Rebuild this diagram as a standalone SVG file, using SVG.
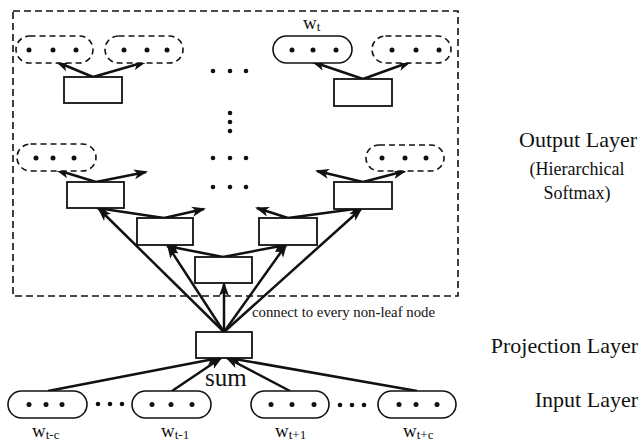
<svg xmlns="http://www.w3.org/2000/svg" width="641" height="444" viewBox="0 0 641 444">
<style>
.box{fill:#fff;stroke:#111;stroke-width:1.8}
.ov{fill:#fff;stroke:#111;stroke-width:1.6}
.dov{fill:#fff;stroke:#111;stroke-width:1.6;stroke-dasharray:6 4}
.frame{fill:none;stroke:#111;stroke-width:1.6;stroke-dasharray:7 4}
.dot{fill:#111}
.ar{stroke:#111;stroke-width:2.5;fill:none;marker-end:url(#ah)}
.t{font-family:"Liberation Serif","Times New Roman",serif;fill:#111}
</style>
<defs>
<marker id="ah" markerUnits="userSpaceOnUse" markerWidth="15" markerHeight="11" refX="12" refY="5.5" orient="auto" viewBox="0 0 15 11">
<path d="M0,0.5 L14,5.5 L0,10.5 L3.5,5.5 z" fill="#111"/>
</marker>
</defs>
<rect class="frame" x="13" y="11" width="445" height="285"/>
<g id="dots-mid" class="dot">
<circle cx="213" cy="71" r="2.3"/><circle cx="230" cy="71" r="2.3"/><circle cx="246" cy="71" r="2.3"/>
<circle cx="230" cy="113" r="2.3"/><circle cx="230" cy="122" r="2.3"/><circle cx="230" cy="131" r="2.3"/>
<circle cx="213" cy="158" r="2.3"/><circle cx="230" cy="158" r="2.3"/><circle cx="246" cy="158" r="2.3"/>
<circle cx="213" cy="187" r="2.3"/><circle cx="230" cy="187" r="2.3"/><circle cx="246" cy="187" r="2.3"/>
<circle cx="98" cy="404" r="2.3"/><circle cx="110" cy="404" r="2.3"/><circle cx="122" cy="404" r="2.3"/>
<circle cx="340" cy="405" r="2.3"/><circle cx="352" cy="405" r="2.3"/><circle cx="364" cy="405" r="2.3"/>
</g>
<g id="connectors">
<line class="ar" x1="93" y1="77" x2="57" y2="62"/>
<line class="ar" x1="93" y1="77" x2="145" y2="62"/>
<line class="ar" x1="363" y1="79" x2="313" y2="62"/>
<line class="ar" x1="363" y1="79" x2="410" y2="62"/>
<line class="ar" x1="96" y1="182" x2="57" y2="170"/>
<line class="ar" x1="96" y1="182" x2="146" y2="172"/>
<line class="ar" x1="164" y1="218" x2="97" y2="208"/>
<line class="ar" x1="164" y1="218" x2="204" y2="209"/>
<line class="ar" x1="223" y1="257" x2="167" y2="246"/>
<line class="ar" x1="223" y1="257" x2="286" y2="245"/>
<line class="ar" x1="288" y1="218" x2="257" y2="208"/>
<line class="ar" x1="288" y1="218" x2="362" y2="208"/>
<line class="ar" x1="363" y1="182" x2="317" y2="171"/>
<line class="ar" x1="363" y1="182" x2="405" y2="171"/>
<line class="ar" x1="224" y1="332" x2="224" y2="284"/>
<line class="ar" x1="224" y1="332" x2="99" y2="209"/>
<line class="ar" x1="224" y1="332" x2="168" y2="246"/>
<line class="ar" x1="224" y1="332" x2="286" y2="245"/>
<line class="ar" x1="224" y1="332" x2="361" y2="209"/>
<line class="ar" x1="48" y1="391" x2="219" y2="358"/>
<line class="ar" x1="172" y1="391" x2="221" y2="358"/>
<line class="ar" x1="290" y1="391" x2="227" y2="358"/>
<line class="ar" x1="417" y1="391" x2="229" y2="358"/>
</g>
<g id="leaf-top-1"><rect class="dov" x="16" y="36" width="77" height="27" rx="13.5"/><g class="dot"><circle cx="29" cy="50" r="2.5"/><circle cx="53" cy="50" r="2.5"/><circle cx="76" cy="50" r="2.5"/></g></g>
<g id="leaf-top-2"><rect class="dov" x="105" y="36" width="78" height="27" rx="13.5"/><g class="dot"><circle cx="124" cy="50" r="2.5"/><circle cx="147" cy="50" r="2.5"/><circle cx="167" cy="50" r="2.5"/></g></g>
<g id="leaf-wt"><rect class="ov" x="273" y="36" width="79" height="27" rx="13.5"/><g class="dot"><circle cx="292" cy="50" r="2.5"/><circle cx="313" cy="50" r="2.5"/><circle cx="336" cy="50" r="2.5"/></g>
<text class="t" x="303" y="29" font-size="19">w<tspan font-size="13" dy="2">t</tspan></text></g>
<g id="leaf-top-4"><rect class="dov" x="372" y="36" width="79" height="27" rx="13.5"/><g class="dot"><circle cx="392" cy="50" r="2.5"/><circle cx="416" cy="50" r="2.5"/><circle cx="439" cy="50" r="2.5"/></g></g>
<g id="leaf-mid-l"><rect class="dov" x="17" y="144" width="79" height="27" rx="13.5"/><g class="dot"><circle cx="36" cy="158" r="2.5"/><circle cx="53" cy="158" r="2.5"/><circle cx="74" cy="158" r="2.5"/></g></g>
<g id="leaf-mid-r"><rect class="dov" x="366" y="145" width="78" height="26" rx="13"/><g class="dot"><circle cx="382" cy="158" r="2.5"/><circle cx="405" cy="158" r="2.5"/><circle cx="426" cy="158" r="2.5"/></g></g>
<g id="node-top-l"><rect class="box" x="64" y="77" width="58" height="26"/></g>
<g id="node-top-r"><rect class="box" x="334" y="79" width="58" height="27"/></g>
<g id="node-l1"><rect class="box" x="67" y="182" width="57" height="26"/></g>
<g id="node-l2"><rect class="box" x="137" y="218" width="56" height="27"/></g>
<g id="node-c"><rect class="box" x="195" y="257" width="57" height="26"/></g>
<g id="node-r2"><rect class="box" x="259" y="218" width="58" height="27"/></g>
<g id="node-r1"><rect class="box" x="334" y="182" width="58" height="27"/></g>
<g id="projection"><rect class="box" x="196" y="332" width="56" height="26"/>
<text class="t" x="205" y="386" font-size="25">sum</text></g>
<text class="t" x="252" y="317" font-size="14" textLength="183" lengthAdjust="spacingAndGlyphs">connect to every non-leaf node</text>
<g id="in-1"><rect class="ov" x="8" y="391" width="79" height="27" rx="13.5"/><g class="dot"><circle cx="29" cy="404.5" r="2.5"/><circle cx="46" cy="404.5" r="2.5"/><circle cx="62" cy="404.5" r="2.5"/></g>
<text class="t" x="32" y="437" font-size="19">w<tspan font-size="13" dy="2">t-c</tspan></text></g>
<g id="in-2"><rect class="ov" x="132" y="391" width="79" height="27" rx="13.5"/><g class="dot"><circle cx="152" cy="404.5" r="2.5"/><circle cx="171" cy="404.5" r="2.5"/><circle cx="192" cy="404.5" r="2.5"/></g>
<text class="t" x="161" y="437" font-size="19">w<tspan font-size="13" dy="2">t-1</tspan></text></g>
<g id="in-3"><rect class="ov" x="251" y="391" width="78" height="27" rx="13.5"/><g class="dot"><circle cx="271" cy="404.5" r="2.5"/><circle cx="292" cy="404.5" r="2.5"/><circle cx="314" cy="404.5" r="2.5"/></g>
<text class="t" x="275" y="437" font-size="19">w<tspan font-size="13" dy="2">t+1</tspan></text></g>
<g id="in-4"><rect class="ov" x="378" y="391" width="78" height="27" rx="13.5"/><g class="dot"><circle cx="399" cy="404.5" r="2.5"/><circle cx="416" cy="404.5" r="2.5"/><circle cx="437" cy="404.5" r="2.5"/></g>
<text class="t" x="403" y="437" font-size="19">w<tspan font-size="13" dy="2">t+c</tspan></text></g>
<g id="layer-labels">
<text class="t" x="637" y="147" font-size="22" text-anchor="end">Output Layer</text>
<text class="t" x="577" y="175" font-size="18" text-anchor="middle">(Hierarchical</text>
<text class="t" x="577" y="199" font-size="18" text-anchor="middle">Softmax)</text>
<text class="t" x="638" y="353" font-size="22" text-anchor="end">Projection Layer</text>
<text class="t" x="638" y="407" font-size="22" text-anchor="end">Input Layer</text>
</g>
</svg>
